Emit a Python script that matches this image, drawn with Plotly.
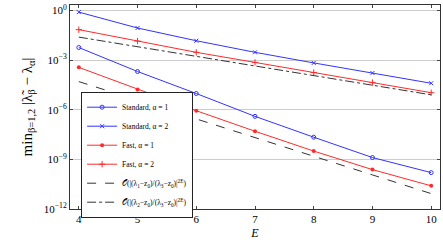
import plotly.graph_objects as go

E = [4, 5, 6, 7, 8, 9, 10]
# log10 values
std_a1 = [-2.24, -3.69, -5.02, -6.40, -7.66, -8.89, -9.80]
std_a2 = [-0.10, -1.06, -1.83, -2.53, -3.17, -3.78, -4.40]
fast_a1 = [-3.44, -4.77, -6.06, -7.30, -8.50, -9.62, -10.60]
fast_a2 = [-1.16, -1.85, -2.53, -3.14, -3.75, -4.36, -4.97]
est_1 = [-4.30, -5.42, -6.55, -7.70, -8.81, -9.94, -11.07]
est_2 = [-1.61, -2.19, -2.77, -3.35, -3.93, -4.52, -5.10]

ytick_exp = [0, -3, -6, -9, -12]
ytick_labels = ["10<sup>%d</sup>" % e if e == 0 else "10<sup>−%d</sup>" % (-e) for e in ytick_exp]

def p(v):
    return [10 ** x for x in v]

BLUE = "#3333ff"
RED = "#ff2a2a"
FONT = "Liberation Serif, DejaVu Serif, serif"

fig = go.Figure()
fig.add_trace(go.Scatter(x=E, y=p(std_a1), mode="lines+markers", name="Standard, α = 1",
                         line=dict(color=BLUE, width=1),
                         marker=dict(symbol="circle-open", size=4, color=BLUE, line=dict(width=1))))
fig.add_trace(go.Scatter(x=E, y=p(std_a2), mode="lines+markers", name="Standard, α = 2",
                         line=dict(color=BLUE, width=1),
                         marker=dict(symbol="x-thin-open", size=4, color=BLUE, line=dict(width=1, color=BLUE))))
fig.add_trace(go.Scatter(x=E, y=p(fast_a1), mode="lines+markers", name="Fast, α = 1",
                         line=dict(color=RED, width=1),
                         marker=dict(symbol="circle", size=4, color=RED)))
fig.add_trace(go.Scatter(x=E, y=p(fast_a2), mode="lines+markers", name="Fast, α = 2",
                         line=dict(color=RED, width=1),
                         marker=dict(symbol="cross-thin-open", size=4.5, color=RED, line=dict(width=1, color=RED))))
fig.add_trace(go.Scatter(x=E, y=p(est_1), mode="lines",
                         name="𝒪(|(λ<sub>1</sub>−z<sub>0</sub>)/(λ<sub>3</sub>−z<sub>0</sub>)|<sup>2E</sup>)",
                         line=dict(color="#333333", width=1, dash="dash")))
fig.add_trace(go.Scatter(x=E, y=p(est_2), mode="lines",
                         name="𝒪(|(λ<sub>2</sub>−z<sub>0</sub>)/(λ<sub>3</sub>−z<sub>0</sub>)|<sup>2E</sup>)",
                         line=dict(color="#333333", width=1, dash="dashdot")))

fig.update_layout(
    width=443, height=248,
    margin=dict(l=70, r=3, t=5, b=39),
    paper_bgcolor="white", plot_bgcolor="white",
    font=dict(family=FONT, size=11, color="black"),
    showlegend=True,
    legend=dict(x=0.03, y=0.575, xanchor="left", yanchor="top",
                bgcolor="white", bordercolor="#222222", borderwidth=1,
                font=dict(family=FONT, size=7.5), tracegroupgap=0,
                itemwidth=30),
)
fig.update_xaxes(range=[3.85, 10.15], tickvals=E, ticks="inside", ticklen=3,
                 showgrid=False, showline=True, linecolor="#333333", linewidth=1, mirror="ticks",
                 zeroline=False, tickfont=dict(size=11), ticklabeloverflow="allow",
                 title=dict(text="<i>E</i>", standoff=4, font=dict(size=12)))
fig.update_yaxes(type="log", range=[-12, 0.33], tickvals=[10 ** e for e in ytick_exp],
                 ticktext=ytick_labels, ticks="inside", ticklen=3,
                 showgrid=True, gridcolor="#cccccc", gridwidth=1,
                 showline=True, linecolor="#333333", linewidth=1, mirror="ticks",
                 zeroline=False, tickfont=dict(size=11),
                 title=dict(text="min<sub>β=1,2</sub> |λ̃<sub>β</sub> − λ<sub>α</sub>|", standoff=7, font=dict(size=15)))

fig.write_html("out.html", config={"displayModeBar": False},
               post_script="document.body.style.margin='0';")
